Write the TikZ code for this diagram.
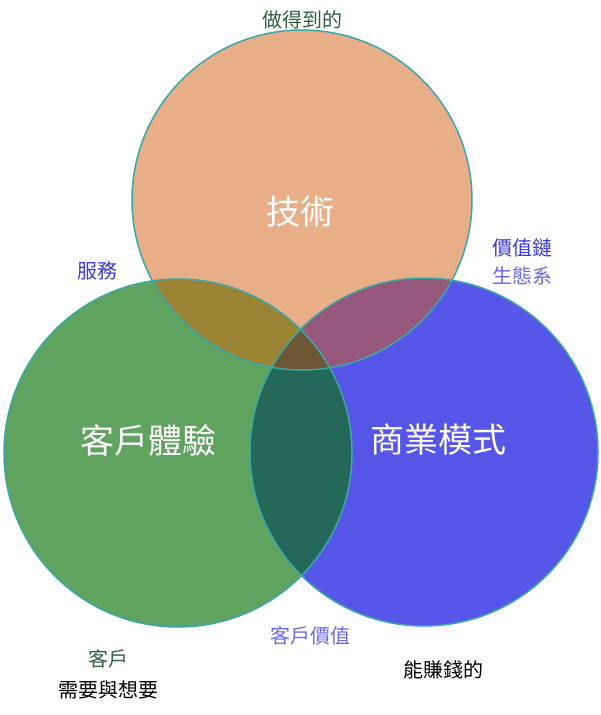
\documentclass[tikz,border=0pt]{standalone}
\usepackage{fontspec}
\setmainfont{Noto Sans CJK TC}
\definecolor{orng}{HTML}{E8AE87}
\definecolor{grn}{HTML}{5FA35F}
\definecolor{blu}{HTML}{5656E8}
\definecolor{edge}{HTML}{3AA8A8}
\definecolor{dgrn}{HTML}{2D5E3E}
\definecolor{lblue}{HTML}{3A3AE0}
\definecolor{llblue}{HTML}{6A6AE8}
\definecolor{ovTL}{HTML}{9B8535}
\definecolor{ovTR}{HTML}{96587A}
\definecolor{ovLR}{HTML}{24685A}
\definecolor{ovC}{HTML}{6C5634}
\tikzset{big/.style={text=white,font=\fontsize{34}{36}\selectfont},
 lab/.style={font=\fontsize{20}{22}\selectfont}}
\begin{document}
\begin{tikzpicture}[x=1pt,y=-1pt]
\useasboundingbox (0,0) rectangle (600,715);
\def\T{(302,200) circle (170)}
\def\L{(178,453) circle (174)}
\def\R{(424,452) circle (174)}
\fill[grn] \L; \fill[blu] \R; \fill[orng] \T;
\begin{scope}\clip \T; \fill[ovTL] \L; \end{scope}
\begin{scope}\clip \T; \fill[ovTR] \R; \end{scope}
\begin{scope}\clip \L; \fill[ovLR] \R; \end{scope}
\begin{scope}\clip \T; \clip \L; \fill[ovC] \R; \end{scope}
\draw[edge,line width=1.5pt] \T \L \R;
\node[text=dgrn,lab] (a) at (302,20) {做得到的};
\node[big] (b) at (300,212) {技術};
\node[big] (c) at (148,440) {客戶體驗};
\node[big] (d) at (438,440) {商業模式};
\node[text=lblue,lab] (e) at (97,271) {服務};
\node[text=lblue,lab] (f) at (522,248) {價值鏈};
\node[text=llblue,lab] (g) at (522,276) {生態系};
\node[text=llblue,lab] (h) at (310,636) {客戶價值};
\node[text=dgrn,lab] (i) at (108,659) {客戶};
\node[lab] (j) at (108,690) {需要與想要};
\node[lab] (k) at (443,670) {能賺錢的};
\end{tikzpicture}
\end{document}
